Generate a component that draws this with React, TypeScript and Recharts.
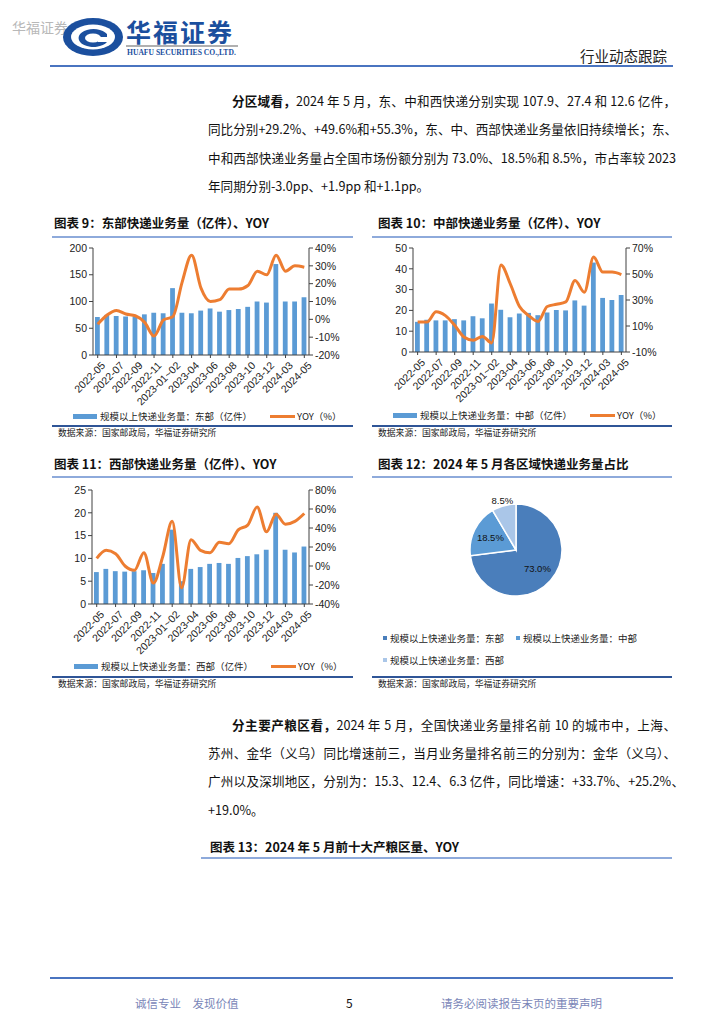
import React from 'react';
import { ComposedChart, Bar, Line, XAxis, YAxis, PieChart, Pie, Cell } from 'recharts';

// 月份（横轴类目）
const months = [
  '2022-05', '2022-06', '2022-07', '2022-08', '2022-09', '2022-10', '2022-11', '2022-12',
  '2023-01~02', '2023-03', '2023-04', '2023-05', '2023-06', '2023-07', '2023-08', '2023-09',
  '2023-10', '2023-11', '2023-12', '2024-01~02', '2024-03', '2024-04', '2024-05',
];

// 东部
const eastVolume = [71, 75, 73, 72, 72, 76, 79, 78, 125, 79, 78, 83, 87, 81, 84, 86, 90, 100, 98, 170, 100, 100, 107.9];
const eastYoy = [-2.8, 2.4, 5, 3, 2, -1.7, -9.4, -0.4, 1.5, 21, 36, 17.5, 10, 11, 17, 17, 19, 27, 25, 36, 27, 30, 29.2];
const eastVolTicks = [0, 50, 100, 150, 200];
const eastYoyTicks = [-20, -10, 0, 10, 20, 30, 40];

// 中部
const midVolume = [14.5, 15.5, 15.2, 15.2, 15.8, 15.2, 17.2, 16.2, 23.3, 20.3, 16.7, 18.5, 18.8, 17.7, 19.0, 20.2, 20.0, 24.8, 22.3, 43, 26, 25, 27.4];
const midYoy = [13, 13, 21, 18, 10.5, 1.5, -1, 2, -3, 57, 42.5, 25, 18, 13.5, 25, 26.7, 28.5, 45, 36, 63, 51.5, 51.5, 49.6];
const midVolTicks = [0, 10, 20, 30, 40, 50];
const midYoyTicks = [-10, 0, 10, 20, 30, 40, 50, 60, 70];

// 西部
const westVolume = [7.0, 7.7, 7.2, 7.1, 7.2, 7.4, 6.8, 8.8, 16.3, 5.0, 7.7, 8.1, 8.8, 9.0, 8.8, 10.1, 10.5, 10.9, 11.9, 20.0, 11.9, 11.3, 12.6];
const westYoy = [8, 16.5, 13, 0, -4.5, 14, -18, 10, 47, -23, 27.6, 16.5, 14, 25, 23.4, 38, 43, 62, 36, 54.5, 44, 47, 55.3];
const westVolTicks = [0, 5, 10, 15, 20, 25];
const westYoyTicks = [-40, -20, 0, 20, 40, 60, 80];

// 2024年5月各区域占比
const shareNames = ['规模以上快递业务量：东部', '规模以上快递业务量：中部', '规模以上快递业务量：西部'];
const shareValues = [73.0, 18.5, 8.5];
const shareColors = ['#4a7ebb', '#5b9bd5', '#aac6e8'];

const CJK = '"Noto Sans CJK SC", "Noto Sans", sans-serif';
const NUM = '"Liberation Sans", Arial, sans-serif';
const AXIS = '#404040';
const BAR = '#5b9bd5';
const ORANGE = '#ed7d31';

const Txt = ({ x, y, size, children, bold, color }: any) => (
  <div
    style={{
      position: 'absolute',
      left: x,
      top: y - size,
      height: size * 2,
      lineHeight: `${size * 2}px`,
      fontSize: size,
      fontWeight: bold ? 700 : 400,
      color: color || '#111',
      fontFamily: CJK,
      whiteSpace: 'nowrap',
    }}
  >
    {children}
  </div>
);

const HLine = ({ x1, x2, y, color, w }: any) => (
  <div style={{ position: 'absolute', left: x1, top: y - w / 2, width: x2 - x1, height: w, background: color }} />
);

const XTick = (props: any) => {
  const { x, y, payload } = props;
  return (
    <g transform={`translate(${x + 3},${y + 1})`}>
      <text x={0} y={0} dy="0.7em" textAnchor="end" transform="rotate(-45)" fontSize={10.5} fill="#222" fontFamily={NUM}>
        {payload.value}
      </text>
    </g>
  );
};

function BarLineChart({ left, top, width, height, volume, yoy, volTicks, yoyTicks, leftW, rightW, xH }: any) {
  const data = months.map((m, i) => ({ m, v: volume[i], y: yoy[i] }));
  const tickStyle = { fontSize: 10.5, fill: '#222', fontFamily: NUM };
  return (
    <div style={{ position: 'absolute', left, top }}>
      <ComposedChart width={width} height={height} data={data} margin={{ top: 8, right: 0, bottom: 0, left: 0 }}>
        <XAxis
          dataKey="m"
          interval={1}
          height={xH}
          tick={<XTick />}
          tickSize={3}
          axisLine={{ stroke: AXIS }}
          tickLine={{ stroke: AXIS }}
        />
        <YAxis
          yAxisId="l"
          width={leftW}
          domain={[volTicks[0], volTicks[volTicks.length - 1]]}
          ticks={volTicks}
          tick={tickStyle}
          tickSize={4}
          axisLine={{ stroke: AXIS }}
          tickLine={{ stroke: AXIS }}
        />
        <YAxis
          yAxisId="r"
          orientation="right"
          width={rightW}
          domain={[yoyTicks[0], yoyTicks[yoyTicks.length - 1]]}
          ticks={yoyTicks}
          tickFormatter={(v: number) => `${v}%`}
          tick={tickStyle}
          tickSize={4}
          axisLine={{ stroke: AXIS }}
          tickLine={{ stroke: AXIS }}
        />
        <Bar yAxisId="l" dataKey="v" fill={BAR} barSize={4.8} isAnimationActive={false} />
        <Line
          yAxisId="r"
          dataKey="y"
          type="monotone"
          stroke={ORANGE}
          strokeWidth={3}
          dot={false}
          activeDot={false}
          isAnimationActive={false}
        />
      </ComposedChart>
    </div>
  );
}

const BarLineLegend = ({ x, y, name }: any) => (
  <>
    <div style={{ position: 'absolute', left: x, top: y - 2.5, width: 24, height: 5, background: BAR }} />
    <Txt x={x + 27} y={y} size={9.5} color="#222">{name}</Txt>
    <div style={{ position: 'absolute', left: x + 197, top: y - 1.5, width: 25, height: 3, background: ORANGE }} />
    <Txt x={x + 224} y={y} size={9.5} color="#222">YOY（%）</Txt>
  </>
);

const RADIAN = Math.PI / 180;
const pieLabel = (p: any) => {
  const { cx, cy, midAngle, outerRadius, index, value } = p;
  const r = index === 2 ? outerRadius * 1.12 : outerRadius * 0.62;
  const lx = cx + r * Math.cos(-midAngle * RADIAN);
  const ly = cy + r * Math.sin(-midAngle * RADIAN);
  return (
    <text x={lx} y={ly} textAnchor="middle" dominantBaseline="central" fontSize={9.5} fill="#111" fontFamily={NUM}>
      {value.toFixed(1)}%
    </text>
  );
};

const Logo = () => (
  <svg style={{ position: 'absolute', left: 60, top: 15 }} width={66} height={44} viewBox="0 0 66 44">
    <ellipse cx={33} cy={22} rx={30} ry={19} fill="#1b4f9e" />
    <ellipse cx={33} cy={22} rx={22} ry={12.5} fill="#fff" />
    <path d="M 47 19 A 15 9 0 1 0 47 27 L 38 27 L 38 22 L 47 22 Z" fill="#1b4f9e" />
    <ellipse cx={33} cy={23} rx={8} ry={4.5} fill="#fff" />
  </svg>
);

export default function App() {
  const bodyLine = (y: number, x: number, w: number, content: any, justify = true) => (
    <div
      style={{
        position: 'absolute',
        left: x,
        top: y - 13,
        width: w,
        height: 26,
        lineHeight: '26px',
        fontSize: 12.6,
        fontFamily: CJK,
        color: '#111',
        whiteSpace: 'nowrap',
        textAlign: justify ? 'justify' : 'left',
        textAlignLast: justify ? 'justify' : 'left',
      }}
    >
      {content}
    </div>
  );

  return (
    <div style={{ position: 'absolute', left: 0, top: 0, width: 724, height: 1024, background: '#fff', overflow: 'hidden' }}>
      {/* 页眉 */}
      <Txt x={12} y={27} size={14} color="#b8b8b8">华福证券</Txt>
      <Logo />
      <div
        style={{
          position: 'absolute', left: 126, top: 18, height: 26, fontSize: 25, fontWeight: 700, color: '#1b4f9e',
          fontFamily: CJK, lineHeight: '26px', letterSpacing: 2, whiteSpace: 'nowrap',
        }}
      >
        华福证券
      </div>
      <HLine x1={126} x2={238} y={46} color="#b0b0b0" w={1.5} />
      <div
        style={{
          position: 'absolute', left: 127, top: 48, height: 9, fontSize: 7.6, fontWeight: 700, color: '#1b4f9e',
          fontFamily: '"Liberation Serif", serif', lineHeight: '9px', whiteSpace: 'nowrap',
        }}
      >
        HUAFU SECURITIES CO.,LTD.
      </div>
      <Txt x={580} y={55} size={14.5} color="#222">行业动态跟踪</Txt>
      <HLine x1={50} x2={673} y={66} color="#4a74c0" w={2} />

      {/* 段落一 */}
      {bodyLine(101, 232, 444, <><b>分区域看，</b>2024 年 5 月，东、中和西快递分别实现 107.9、27.4 和 12.6 亿件，</>)}
      {bodyLine(129, 208, 468, '同比分别+29.2%、+49.6%和+55.3%，东、中、西部快递业务量依旧持续增长；东、')}
      {bodyLine(158, 208, 468, '中和西部快递业务量占全国市场份额分别为 73.0%、18.5%和 8.5%，市占率较 2023')}
      {bodyLine(186, 208, 468, '年同期分别-3.0pp、+1.9pp 和+1.1pp。', false)}

      {/* 图表9 */}
      <Txt x={54} y={222} size={12.5} bold>图表 9：东部快递业务量（亿件）、YOY</Txt>
      <HLine x1={52} x2={353} y={237} color="#8eaadb" w={2} />
      <BarLineChart
        left={50} top={240} width={300} height={175}
        volume={eastVolume} yoy={eastYoy} volTicks={eastVolTicks} yoyTicks={eastYoyTicks}
        leftW={43} rightW={41} xH={60}
      />
      <BarLineLegend x={73} y={416} name="规模以上快递业务量：东部（亿件）" />
      <HLine x1={52} x2={353} y={426} color="#2f5597" w={1.5} />
      <Txt x={58} y={433} size={8.8} color="#222">数据来源：国家邮政局，华福证券研究所</Txt>

      {/* 图表10 */}
      <Txt x={378} y={222} size={12.5} bold>图表 10：中部快递业务量（亿件）、YOY</Txt>
      <HLine x1={372} x2={672} y={237} color="#8eaadb" w={2} />
      <BarLineChart
        left={370} top={240} width={300} height={175}
        volume={midVolume} yoy={midYoy} volTicks={midVolTicks} yoyTicks={midYoyTicks}
        leftW={43} rightW={44} xH={63}
      />
      <BarLineLegend x={393} y={415} name="规模以上快递业务量：中部（亿件）" />
      <HLine x1={372} x2={672} y={426} color="#2f5597" w={1.5} />
      <Txt x={378} y={433} size={8.8} color="#222">数据来源：国家邮政局，华福证券研究所</Txt>

      {/* 图表11 */}
      <Txt x={54} y={463} size={12.5} bold>图表 11：西部快递业务量（亿件）、YOY</Txt>
      <HLine x1={52} x2={353} y={477} color="#8eaadb" w={2} />
      <BarLineChart
        left={50} top={482} width={300} height={182}
        volume={westVolume} yoy={westYoy} volTicks={westVolTicks} yoyTicks={westYoyTicks}
        leftW={42} rightW={41} xH={60}
      />
      <BarLineLegend x={74} y={666} name="规模以上快递业务量：西部（亿件）" />
      <HLine x1={52} x2={353} y={677} color="#2f5597" w={1.5} />
      <Txt x={58} y={684} size={8.8} color="#222">数据来源：国家邮政局，华福证券研究所</Txt>

      {/* 图表12 */}
      <Txt x={378} y={463} size={12.5} bold>图表 12：2024 年 5 月各区域快递业务量占比</Txt>
      <HLine x1={372} x2={672} y={477} color="#8eaadb" w={2} />
      <div style={{ position: 'absolute', left: 370, top: 480 }}>
        <PieChart width={300} height={135}>
          <Pie
            data={shareNames.map((n, i) => ({ name: n, value: shareValues[i] }))}
            dataKey="value"
            cx={141}
            cy={65}
            outerRadius={46}
            startAngle={90}
            endAngle={-270}
            stroke="#fff"
            strokeWidth={1.5}
            label={pieLabel}
            labelLine={false}
            isAnimationActive={false}
          >
            {shareValues.map((_, i) => (
              <Cell key={i} fill={shareColors[i]} />
            ))}
          </Pie>
        </PieChart>
      </div>
      {[
        [387, 638],
        [520, 638],
        [387, 660],
      ].map(([x, y], i) => (
        <React.Fragment key={i}>
          <div style={{ position: 'absolute', left: x - 4, top: y - 2, width: 4, height: 4, background: shareColors[i] }} />
          <Txt x={x + 3} y={y} size={9.5} color="#222">{shareNames[i]}</Txt>
        </React.Fragment>
      ))}
      <HLine x1={372} x2={672} y={677} color="#2f5597" w={1.5} />
      <Txt x={378} y={684} size={8.8} color="#222">数据来源：国家邮政局，华福证券研究所</Txt>

      {/* 段落二 */}
      {bodyLine(725, 232, 444, <><b>分主要产粮区看，</b>2024 年 5 月，全国快递业务量排名前 10 的城市中，上海、</>)}
      {bodyLine(753, 208, 468, '苏州、金华（义乌）同比增速前三，当月业务量排名前三的分别为：金华（义乌）、')}
      {bodyLine(781, 208, 476, '广州以及深圳地区，分别为：15.3、12.4、6.3 亿件，同比增速：+33.7%、+25.2%、')}
      {bodyLine(810, 208, 468, '+19.0%。', false)}

      <Txt x={210} y={846} size={12.5} bold>图表 13：2024 年 5 月前十大产粮区量、YOY</Txt>
      <HLine x1={201} x2={672} y={858} color="#8eaadb" w={2} />

      {/* 页脚 */}
      <HLine x1={50} x2={673} y={978} color="#4a74c0" w={2} />
      <Txt x={135} y={1003} size={11.5} color="#7a86b8">诚信专业　发现价值</Txt>
      <Txt x={346} y={1003} size={12} color="#111">5</Txt>
      <Txt x={441} y={1003} size={11.5} color="#7a86b8">请务必阅读报告末页的重要声明</Txt>
    </div>
  );
}
